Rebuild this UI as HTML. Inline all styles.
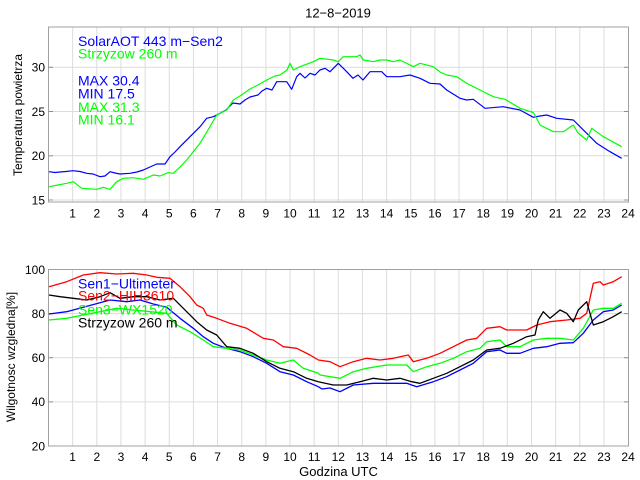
<!DOCTYPE html>
<html>
<head>
<meta charset="utf-8">
<style>
html,body{margin:0;padding:0;background:#fff;}
svg{display:block;}
text{font-family:"Liberation Sans",Arial,sans-serif;}
</style>
</head>
<body>
<svg width="640" height="480" viewBox="0 0 640 480" xmlns="http://www.w3.org/2000/svg">
<rect width="640" height="480" fill="#fff"/>
<!-- Title -->
<text x="338" y="17.7" font-size="13" text-anchor="middle" fill="#000">12−8−2019</text>

<!-- ===== TOP PLOT ===== -->
<g stroke="#dcdcdc" stroke-width="1" fill="none">
  <line x1="72.65" y1="27" x2="72.65" y2="202"/>
  <line x1="96.8" y1="27" x2="96.8" y2="202"/>
  <line x1="120.95" y1="27" x2="120.95" y2="202"/>
  <line x1="145.1" y1="27" x2="145.1" y2="202"/>
  <line x1="169.25" y1="27" x2="169.25" y2="202"/>
  <line x1="193.4" y1="27" x2="193.4" y2="202"/>
  <line x1="217.55" y1="27" x2="217.55" y2="202"/>
  <line x1="241.7" y1="27" x2="241.7" y2="202"/>
  <line x1="265.85" y1="27" x2="265.85" y2="202"/>
  <line x1="290" y1="27" x2="290" y2="202"/>
  <line x1="314.15" y1="27" x2="314.15" y2="202"/>
  <line x1="338.3" y1="27" x2="338.3" y2="202"/>
  <line x1="362.45" y1="27" x2="362.45" y2="202"/>
  <line x1="386.6" y1="27" x2="386.6" y2="202"/>
  <line x1="410.75" y1="27" x2="410.75" y2="202"/>
  <line x1="434.9" y1="27" x2="434.9" y2="202"/>
  <line x1="459.05" y1="27" x2="459.05" y2="202"/>
  <line x1="483.2" y1="27" x2="483.2" y2="202"/>
  <line x1="507.35" y1="27" x2="507.35" y2="202"/>
  <line x1="531.5" y1="27" x2="531.5" y2="202"/>
  <line x1="555.65" y1="27" x2="555.65" y2="202"/>
  <line x1="579.8" y1="27" x2="579.8" y2="202"/>
  <line x1="603.95" y1="27" x2="603.95" y2="202"/>
  <line x1="48.5" y1="200" x2="628.5" y2="200"/>
  <line x1="48.5" y1="155.8" x2="628.5" y2="155.8"/>
  <line x1="48.5" y1="111.5" x2="628.5" y2="111.5"/>
  <line x1="48.5" y1="67.3" x2="628.5" y2="67.3"/>
</g>
<rect x="48.5" y="27" width="580" height="175" fill="none" stroke="#a0a0a0" stroke-width="1"/>
<g stroke="#909090" stroke-width="1">
  <line x1="48.5" y1="200" x2="53" y2="200"/><line x1="628.5" y1="200" x2="624" y2="200"/>
  <line x1="48.5" y1="155.8" x2="53" y2="155.8"/><line x1="628.5" y1="155.8" x2="624" y2="155.8"/>
  <line x1="48.5" y1="111.5" x2="53" y2="111.5"/><line x1="628.5" y1="111.5" x2="624" y2="111.5"/>
  <line x1="48.5" y1="67.3" x2="53" y2="67.3"/><line x1="628.5" y1="67.3" x2="624" y2="67.3"/>
</g>
<g font-size="12" text-anchor="end" fill="#000">
  <text x="45" y="204.3">15</text>
  <text x="45" y="160">20</text>
  <text x="45" y="115.8">25</text>
  <text x="45" y="71.6">30</text>
</g>
<g font-size="12" text-anchor="middle" fill="#000">
  <text x="72.65" y="217.5">1</text><text x="96.8" y="217.5">2</text><text x="120.95" y="217.5">3</text>
  <text x="145.1" y="217.5">4</text><text x="169.25" y="217.5">5</text><text x="193.4" y="217.5">6</text>
  <text x="217.55" y="217.5">7</text><text x="241.7" y="217.5">8</text><text x="265.85" y="217.5">9</text>
  <text x="290" y="217.5">10</text><text x="314.15" y="217.5">11</text><text x="338.3" y="217.5">12</text>
  <text x="362.45" y="217.5">13</text><text x="386.6" y="217.5">14</text><text x="410.75" y="217.5">15</text>
  <text x="434.9" y="217.5">16</text><text x="459.05" y="217.5">17</text><text x="483.2" y="217.5">18</text>
  <text x="507.35" y="217.5">19</text><text x="531.5" y="217.5">20</text><text x="555.65" y="217.5">21</text>
  <text x="579.8" y="217.5">22</text><text x="603.95" y="217.5">23</text><text x="628.1" y="217.5">24</text>
</g>
<text transform="translate(22,115) rotate(-90)" font-size="12" text-anchor="middle" fill="#000">Temperatura powietrza</text>

<polyline fill="none" stroke="#0000ff" stroke-width="1.2" stroke-linejoin="round" points="49,171.7 55,172.5 60,172 66,171.5 73,170.7 80,171.5 86.7,173.3 93,174 100,176.7 105,176 110,171.7 115,173 120,174 130,173.3 137,172 143.3,170 150,167 156.7,164 165,164 170,156.7 175,152 180,146.7 190,136.7 200,126.7 206.7,118.3 213.3,116.7 220,113.3 226,110 233,103 240,104 245,100 250,97 258,95 262,91 266.7,88.3 272,90 276.7,81.7 286.7,81.7 291.7,89.3 296.7,76.7 300,73.3 305,78 310,73.3 315,75 320,70 325,68.3 330,71.7 338.3,63.3 346.7,71.7 353,78.3 358,75 363,80 370,71.7 381.7,71.7 386.7,76.7 400,76.7 410,75 420,78.3 430,83.3 440,84 446.7,90 460,98.3 466.7,100 473.3,99.3 485,108.3 503.3,106.7 520,110 533.3,117.3 540,116 546.7,115 556.7,118.3 573.3,120 586.7,133.3 596.7,143.3 610,151.7 621.7,158.3"/>
<polyline fill="none" stroke="#00ff00" stroke-width="1.2" stroke-linejoin="round" points="49,186.7 58,185 66.7,183.3 73.3,181.7 81.7,188.3 96.7,189.3 103.3,187.3 110,189.3 116.7,181.7 123.3,178.3 133.3,177.7 143.3,179.3 153.3,175 160,176 168.3,172.7 173.3,173.3 180,167 186.7,160 200,143.3 210,126.7 216.7,115 226.7,110 233.3,100 240,96 250,89 258,85 266.7,80 275,76 280,75 287,70 290,63.3 293.3,70 300,66.7 313.3,61.7 320,58.3 333.3,60 338.3,61.7 343.3,56.7 356.7,56.7 360,55 363.3,60 373.3,61.7 380,60 386.7,60 393.3,61.7 400,60 413.3,66.7 420,63.3 433.3,66.7 440,72 446.7,75 456.7,76.7 466.7,83.3 480,90 493.3,96.7 505,99.3 520,108.3 533.3,112.5 536.5,118 540,125 553.3,131.7 563.3,131.7 573.3,125 578,133 586.7,140 591.7,128.3 603.3,136.7 621.7,146.7"/>

<g font-size="14">
  <text x="78" y="46" fill="#0000ff">SolarAOT 443 m−Sen2</text>
  <text x="78" y="58.6" fill="#00ff00">Strzyzow 260 m</text>
  <text x="78" y="85.3" fill="#0000ff">MAX 30.4</text>
  <text x="78" y="98.6" fill="#0000ff">MIN 17.5</text>
  <text x="78" y="111.9" fill="#00ff00">MAX 31.3</text>
  <text x="78" y="124.3" fill="#00ff00">MIN 16.1</text>
</g>

<!-- ===== BOTTOM PLOT ===== -->
<g stroke="#dcdcdc" stroke-width="1" fill="none">
  <line x1="72.65" y1="269.5" x2="72.65" y2="446"/>
  <line x1="96.8" y1="269.5" x2="96.8" y2="446"/>
  <line x1="120.95" y1="269.5" x2="120.95" y2="446"/>
  <line x1="145.1" y1="269.5" x2="145.1" y2="446"/>
  <line x1="169.25" y1="269.5" x2="169.25" y2="446"/>
  <line x1="193.4" y1="269.5" x2="193.4" y2="446"/>
  <line x1="217.55" y1="269.5" x2="217.55" y2="446"/>
  <line x1="241.7" y1="269.5" x2="241.7" y2="446"/>
  <line x1="265.85" y1="269.5" x2="265.85" y2="446"/>
  <line x1="290" y1="269.5" x2="290" y2="446"/>
  <line x1="314.15" y1="269.5" x2="314.15" y2="446"/>
  <line x1="338.3" y1="269.5" x2="338.3" y2="446"/>
  <line x1="362.45" y1="269.5" x2="362.45" y2="446"/>
  <line x1="386.6" y1="269.5" x2="386.6" y2="446"/>
  <line x1="410.75" y1="269.5" x2="410.75" y2="446"/>
  <line x1="434.9" y1="269.5" x2="434.9" y2="446"/>
  <line x1="459.05" y1="269.5" x2="459.05" y2="446"/>
  <line x1="483.2" y1="269.5" x2="483.2" y2="446"/>
  <line x1="507.35" y1="269.5" x2="507.35" y2="446"/>
  <line x1="531.5" y1="269.5" x2="531.5" y2="446"/>
  <line x1="555.65" y1="269.5" x2="555.65" y2="446"/>
  <line x1="579.8" y1="269.5" x2="579.8" y2="446"/>
  <line x1="603.95" y1="269.5" x2="603.95" y2="446"/>
  <line x1="48.5" y1="401.9" x2="628.5" y2="401.9"/>
  <line x1="48.5" y1="357.7" x2="628.5" y2="357.7"/>
  <line x1="48.5" y1="313.6" x2="628.5" y2="313.6"/>
</g>
<rect x="48.5" y="269.5" width="580" height="176.5" fill="none" stroke="#a0a0a0" stroke-width="1"/>
<g stroke="#909090" stroke-width="1">
  <line x1="48.5" y1="401.9" x2="53" y2="401.9"/><line x1="628.5" y1="401.9" x2="624" y2="401.9"/>
  <line x1="48.5" y1="357.7" x2="53" y2="357.7"/><line x1="628.5" y1="357.7" x2="624" y2="357.7"/>
  <line x1="48.5" y1="313.6" x2="53" y2="313.6"/><line x1="628.5" y1="313.6" x2="624" y2="313.6"/>
</g>
<g font-size="12" text-anchor="end" fill="#000">
  <text x="45" y="450.3">20</text>
  <text x="45" y="406.2">40</text>
  <text x="45" y="362">60</text>
  <text x="45" y="317.9">80</text>
  <text x="45" y="273.8">100</text>
</g>
<g font-size="12" text-anchor="middle" fill="#000">
  <text x="72.65" y="461">1</text><text x="96.8" y="461">2</text><text x="120.95" y="461">3</text>
  <text x="145.1" y="461">4</text><text x="169.25" y="461">5</text><text x="193.4" y="461">6</text>
  <text x="217.55" y="461">7</text><text x="241.7" y="461">8</text><text x="265.85" y="461">9</text>
  <text x="290" y="461">10</text><text x="314.15" y="461">11</text><text x="338.3" y="461">12</text>
  <text x="362.45" y="461">13</text><text x="386.6" y="461">14</text><text x="410.75" y="461">15</text>
  <text x="434.9" y="461">16</text><text x="459.05" y="461">17</text><text x="483.2" y="461">18</text>
  <text x="507.35" y="461">19</text><text x="531.5" y="461">20</text><text x="555.65" y="461">21</text>
  <text x="579.8" y="461">22</text><text x="603.95" y="461">23</text><text x="628.1" y="461">24</text>
</g>
<text x="338.5" y="476" font-size="13" text-anchor="middle" fill="#000">Godzina UTC</text>
<text transform="translate(15,357) rotate(-90)" font-size="12" text-anchor="middle" fill="#000">Wilgotnosc wzgledna[%]</text>

<polyline fill="none" stroke="#0000ff" stroke-width="1.3" stroke-linejoin="round" points="49,314 66.7,311.7 83.3,307.3 100,302.7 110,300 126.7,301.7 140,300 153.3,304 166.7,307.3 180,318.3 193.3,328.3 203.3,336.7 213.3,343.3 226.7,348.3 240,351.7 253.3,356.7 266.7,363.3 280,371.7 293.3,375 306.7,381.7 318.3,386.7 322,389 330,388 340,391.7 353.3,385 373.3,383.3 386.7,383.3 406.7,383.3 416.7,386.7 433.3,381.7 446.7,376.7 460,370 473.3,363.3 486.7,351.7 500,350 506.7,353.3 520,353.3 533.3,348.3 546.7,346.7 560,343.3 573.3,342.7 583.3,333.3 593.3,320 603.3,311.7 613.3,310 621.7,305"/>
<polyline fill="none" stroke="#ff0000" stroke-width="1.3" stroke-linejoin="round" points="49,286.7 66.7,281.7 83.3,275 100,272.7 116.7,274 133.3,273.3 146.7,275 156.7,277.3 170,278.3 180,286.7 190,296.7 196.7,305 203.3,308.3 206.7,315 216.7,318.3 230,323.3 246.7,328.3 263.3,338.3 273.3,340 283.3,346.7 296.7,348.3 310,355 318.3,360 330,361.7 340,366.7 353.3,361.7 366.7,358.3 380,360 393.3,358.3 408.3,355 413.3,361.7 426.7,358.3 440,353.3 453.3,346.7 466.7,340 476.7,338.3 486.7,328.3 500,326.7 506.7,330 526.7,330 536.7,325 550,321.7 566.7,320 580,318.3 586.7,313.3 593.3,283.3 600,281.7 603.3,285 613.3,281.7 621.7,276.7"/>
<polyline fill="none" stroke="#00ff00" stroke-width="1.3" stroke-linejoin="round" points="49,320 66.7,318.3 83.3,315 100,311.7 116.7,308.3 133.3,310 150,311.7 166.7,313.3 176.7,325 190,331.7 203.3,340 213.3,346.7 226.7,348.3 240,350 253.3,355 266.7,360 280,363.3 293.3,360 303.3,368.3 318.3,373.3 320,375 340,378.3 353.3,371.7 366.7,368.3 386.7,365 406.7,365 413.3,371.7 426.7,366.7 440,363.3 453.3,358.3 466.7,351.7 480,348.3 486.7,341.7 500,340 506.7,346.7 520,346.7 533.3,340 546.7,338.3 560,338.3 573.3,340 583.3,328.3 593.3,310 603.3,308.3 613.3,308.3 621.7,303.3"/>
<polyline fill="none" stroke="#000000" stroke-width="1.3" stroke-linejoin="round" points="49,295 60,296.7 73.3,298.3 86.7,300 100,296.7 110,292.7 120,298.3 133.3,296.7 146.7,296.7 160,300 173.3,298.3 186.7,311.7 196.7,321.7 206.7,330 216.7,335 226.7,346.7 240,348.3 253.3,353.3 266.7,361.7 280,368.3 293.3,371.7 306.7,378.3 318.3,381.7 333.3,385 346.7,385 360,381.7 373.3,378.3 386.7,380 400,378.3 411.7,381.7 420,383.3 433.3,378.3 446.7,373.3 460,366.7 473.3,360 486.7,350 500,348.3 513.3,343.3 526.7,336.7 535,335 538.3,320 543.3,311.7 550,318.3 560,310 566.7,313.3 573.3,321.7 578.3,310 586.7,301.7 593.3,325 603.3,321.7 613.3,316.7 621.7,311.7"/>

<g font-size="14">
  <text x="78" y="288.3" fill="#0000ff">Sen1−Ultimeter</text>
  <text x="78" y="300.3" fill="#ff0000">Sen2−HIH3610</text>
  <text x="78" y="314.5" fill="#00ff00">Sen3−WX1520</text>
  <text x="78" y="327.7" fill="#000000">Strzyzow 260 m</text>
</g>
</svg>
</body>
</html>
